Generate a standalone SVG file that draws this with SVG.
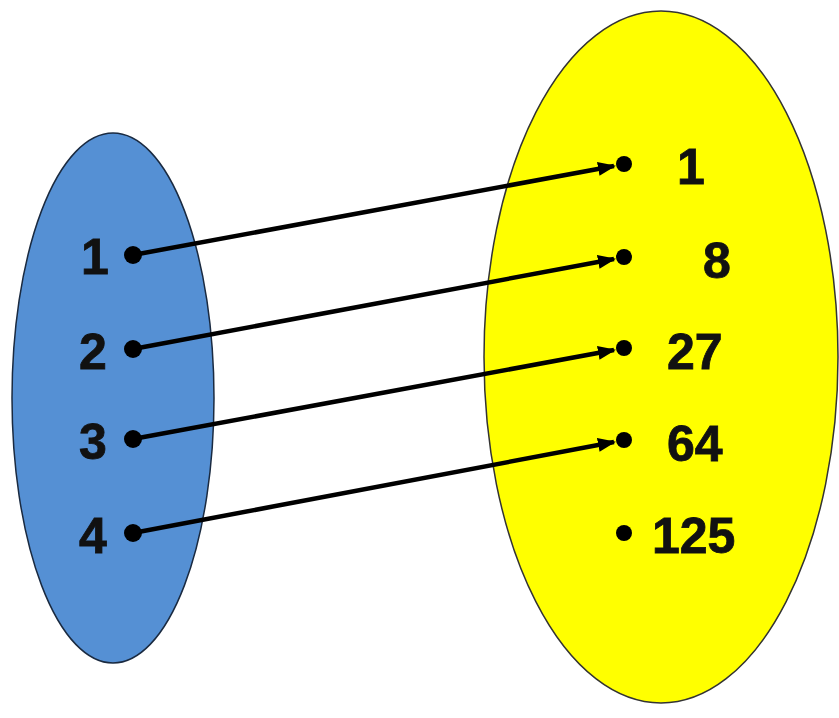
<svg xmlns="http://www.w3.org/2000/svg" width="839" height="718" viewBox="0 0 839 718">
<style>
.lbl{font-family:"Liberation Sans",Arial,sans-serif;font-weight:bold;font-size:50px;fill:#111;stroke:#111;stroke-width:0.8}
.dot{fill:#000}
.conn{stroke:#000;stroke-width:4.5;fill:none;marker-end:url(#ah)}
</style>
<defs>
<marker id="ah" markerUnits="userSpaceOnUse" markerWidth="18" markerHeight="14" refX="16" refY="7" orient="auto">
<path d="M0,0 L18,7 L0,14 Z" fill="#000"/>
</marker>
</defs>
<rect width="839" height="718" fill="#fff"/>
<g id="domain">
<ellipse cx="113" cy="398" rx="101" ry="265" fill="#5590D4" stroke="#1a2a40" stroke-width="1.5"/>
</g>
<g id="codomain">
<ellipse cx="661" cy="357" rx="177" ry="346" fill="#FFFF00" stroke="#333" stroke-width="1.5"/>
</g>
<g id="left-1"><text class="lbl" x="81" y="274">1</text><circle class="dot" cx="133" cy="255" r="9"/></g>
<g id="left-2"><text class="lbl" x="79" y="369">2</text><circle class="dot" cx="133" cy="349" r="9"/></g>
<g id="left-3"><text class="lbl" x="79" y="459">3</text><circle class="dot" cx="133" cy="439" r="9"/></g>
<g id="left-4"><text class="lbl" x="79" y="553">4</text><circle class="dot" cx="133" cy="533" r="9"/></g>
<g id="right-1"><circle class="dot" cx="624" cy="164" r="8"/><text class="lbl" x="677" y="184">1</text></g>
<g id="right-8"><circle class="dot" cx="624" cy="257" r="8"/><text class="lbl" x="703" y="278">8</text></g>
<g id="right-27"><circle class="dot" cx="624" cy="348" r="8"/><text class="lbl" x="667" y="369">27</text></g>
<g id="right-64"><circle class="dot" cx="624" cy="440" r="8"/><text class="lbl" x="667" y="461">64</text></g>
<g id="right-125"><circle class="dot" cx="624" cy="533" r="8"/><text class="lbl" x="652" y="553">125</text></g>
<g id="connectors">
<line class="conn" x1="133" y1="255" x2="614" y2="166"/>
<line class="conn" x1="133" y1="349" x2="614" y2="259"/>
<line class="conn" x1="133" y1="439" x2="614" y2="350"/>
<line class="conn" x1="133" y1="533" x2="614" y2="442"/>
</g>
</svg>
